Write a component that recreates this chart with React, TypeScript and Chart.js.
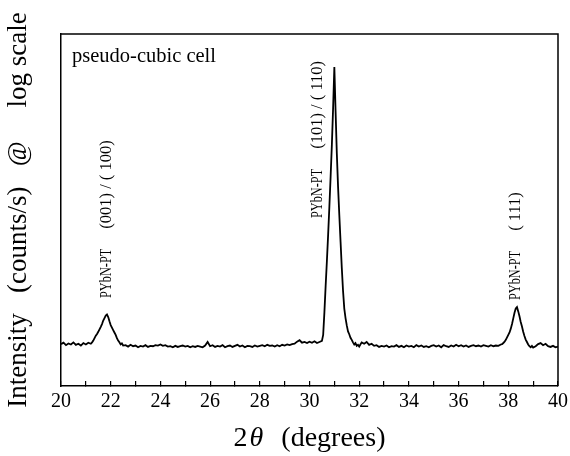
import React, { useEffect, useRef } from 'react';
import { Chart, registerables } from 'chart.js';

Chart.register(...registerables);

const SERIF = '"Liberation Serif", "Times New Roman", Times, serif';

// 2θ positions (degrees)
const twoTheta = [
  20.0, 20.1, 20.2, 20.3, 20.4, 20.5, 20.6, 20.7, 20.8, 20.9, 21.0, 21.1, 21.2,
  21.25, 21.3, 21.35, 21.4, 21.45, 21.5, 21.55, 21.6, 21.65, 21.7, 21.75, 21.8, 21.85,
  21.9, 21.95, 22.0, 22.05, 22.1, 22.15, 22.2, 22.25, 22.3, 22.35, 22.4, 22.45, 22.5,
  22.6, 22.7, 22.8, 22.9,
  23.0, 23.1, 23.2, 23.3, 23.4, 23.5, 23.6, 23.7, 23.8, 23.9,
  24.0, 24.1, 24.2, 24.3, 24.4, 24.5, 24.6, 24.7, 24.8, 24.9,
  25.0, 25.1, 25.2, 25.3, 25.4, 25.5, 25.6, 25.7, 25.8, 25.9,
  26.0, 26.1, 26.2, 26.3, 26.4, 26.5, 26.6, 26.7, 26.8, 26.9,
  27.0, 27.1, 27.2, 27.3, 27.4, 27.5, 27.6, 27.7, 27.8, 27.9,
  28.0, 28.1, 28.2, 28.3, 28.4, 28.5, 28.6, 28.7, 28.8, 28.9,
  29.0, 29.1, 29.2, 29.3, 29.4, 29.5, 29.6, 29.7, 29.8, 29.9,
  30.0, 30.1, 30.2, 30.3, 30.4, 30.5,
  30.55, 30.6, 30.65, 30.7, 30.75, 30.8, 30.85, 30.9, 30.95, 31.0,
  31.05, 31.1, 31.15, 31.2, 31.25, 31.3, 31.35, 31.4, 31.45, 31.5,
  31.55, 31.6, 31.65, 31.7, 31.75, 31.8, 31.85, 31.9, 31.95, 32.0,
  32.1, 32.2, 32.3, 32.4, 32.5, 32.6, 32.7, 32.8, 32.9,
  33.0, 33.1, 33.2, 33.3, 33.4, 33.5, 33.6, 33.7, 33.8, 33.9,
  34.0, 34.1, 34.2, 34.3, 34.4, 34.5, 34.6, 34.7, 34.8, 34.9,
  35.0, 35.1, 35.2, 35.3, 35.4, 35.5, 35.6, 35.7, 35.8, 35.9,
  36.0, 36.1, 36.2, 36.3, 36.4, 36.5, 36.6, 36.7, 36.8, 36.9,
  37.0, 37.1, 37.2, 37.3, 37.4, 37.5, 37.6, 37.7,
  37.75, 37.8, 37.85, 37.9, 37.95, 38.0, 38.05, 38.1, 38.15, 38.2,
  38.25, 38.3, 38.35, 38.4, 38.45, 38.5, 38.55, 38.6, 38.65, 38.7,
  38.75, 38.8, 38.85, 38.9, 38.95,
  39.0, 39.1, 39.2, 39.3, 39.4, 39.5, 39.6, 39.7, 39.8, 39.9, 40.0,
];

// Intensity (arbitrary units, log-scale plot)
const intensity = [
  11.9, 12.3, 11.6, 12.1, 11.8, 12.4, 11.7, 12.0, 11.5, 12.2, 11.8, 12.3, 12.0,
  12.4, 12.9, 13.6, 14.3, 14.8, 15.4, 16.1, 16.8, 17.6, 18.6, 19.3, 20.0, 20.3,
  19.6, 18.4, 17.3, 16.6, 15.9, 15.2, 14.5, 13.6, 12.9, 12.4, 11.8, 12.1, 11.5,
  11.6, 11.2, 11.7, 11.3,
  11.5, 11.0, 11.4, 11.2, 11.6, 11.1, 11.4, 11.3, 11.6, 11.5,
  11.8, 11.4, 11.6, 11.2, 11.3, 11.0, 11.4, 11.1, 11.3, 11.5,
  11.2, 11.4, 11.0, 11.3, 11.1, 11.4, 11.2, 11.0, 11.5, 12.5,
  11.3, 11.6, 11.1, 11.4, 11.2, 11.6, 11.0, 11.3, 11.5, 11.1,
  11.4, 11.7, 11.2, 11.5, 11.0, 11.4, 11.3, 11.1, 11.5, 11.2,
  11.4, 11.6, 11.3, 11.7, 11.4, 11.5, 11.2, 11.6, 11.3, 11.7,
  11.5, 11.8, 11.6, 11.9, 12.0, 12.6, 13.0, 12.3, 12.5, 12.2,
  12.6, 12.3, 12.7, 12.2, 12.5, 12.8,
  14.5, 21.0, 28.5, 35.5, 43.0, 51.0, 59.5, 68.5, 79.0, 90.6,
  78.0, 66.0, 56.5, 48.5, 41.0, 33.5, 27.0, 22.0, 19.3, 17.2,
  15.5, 14.7, 13.7, 13.1, 12.4, 11.8, 12.2, 11.4, 11.7, 11.2,
  12.4, 12.0, 12.5, 11.7, 12.0, 11.4, 11.6, 11.1, 11.4,
  11.2, 11.5, 11.0, 11.3, 11.2, 11.6, 11.1, 11.4, 11.0, 11.5,
  11.2, 11.4, 11.0, 11.6, 11.2, 11.5, 11.1, 11.3, 11.0, 11.4,
  11.6, 11.2, 11.5, 11.0, 11.6, 11.3, 11.1, 11.5, 11.2, 11.7,
  11.3, 11.6, 11.2, 11.5, 11.1, 11.4, 11.6, 11.3, 11.5, 11.2,
  11.6, 11.4, 11.2, 11.6, 11.3, 11.5, 11.4, 11.8,
  11.9, 12.2, 12.6, 13.1, 13.8, 14.5, 15.2, 16.3, 17.6, 19.2,
  20.8, 22.0, 22.4, 21.2, 19.8, 18.2, 16.9, 15.4, 14.2, 13.2,
  12.5, 11.8, 11.3, 11.0, 11.4,
  10.9, 11.3, 11.9, 12.2, 11.6, 12.0, 11.3, 11.1, 11.4, 11.0, 11.2,
];

const xMin = 20;
const xMax = 40;
const xLabelStep = 2;
const yMin = 0;
const yMax = 100;

const peakPhase = ['PYbN-PT', 'PYbN-PT', 'PYbN-PT'];
const peakHkl = ['(001) / ( 100)', '(101) / ( 110)', '( 111)'];
const peakLabelX = [21.83, 30.32, 38.3];
const peakLabelY = [25.0, 47.7, 24.4];

const insetText = 'pseudo-cubic cell';
const xTitleNumber = '2';
const xTitleSymbol = 'θ';
const xTitleUnit = '(degrees)';
const yTitle = 'Intensity   (counts/s)   @     log scale';

const decorPlugin = {
  id: 'decor',
  afterDraw(chart: any) {
    const { ctx, chartArea, scales } = chart;
    const xs = scales.x;
    const ys = scales.y;
    ctx.save();
    // frame: top and right
    ctx.strokeStyle = '#000';
    ctx.lineWidth = 1.5;
    ctx.beginPath();
    ctx.moveTo(chartArea.left, chartArea.top);
    ctx.lineTo(chartArea.right, chartArea.top);
    ctx.lineTo(chartArea.right, chartArea.bottom);
    ctx.stroke();

    ctx.fillStyle = '#000';
    // inset text
    ctx.font = `20.5px ${SERIF}`;
    ctx.textAlign = 'left';
    ctx.textBaseline = 'alphabetic';
    ctx.fillText(insetText, chartArea.left + 11, chartArea.top + 28);

    // peak labels (rotated)
    for (let i = 0; i < peakPhase.length; i++) {
      const px = xs.getPixelForValue(peakLabelX[i]);
      const py = ys.getPixelForValue(peakLabelY[i]);
      ctx.save();
      ctx.translate(px, py);
      ctx.rotate(-Math.PI / 2);
      ctx.textAlign = 'left';
      ctx.textBaseline = 'middle';
      ctx.font = `16px ${SERIF}`;
      const w = ctx.measureText(peakPhase[i]).width * 0.77;
      ctx.save();
      ctx.scale(0.77, 1);
      ctx.fillText(peakPhase[i], 0, 0);
      ctx.restore();
      ctx.font = `16.5px ${SERIF}`;
      ctx.fillText(peakHkl[i], w + 20, 0);
      ctx.restore();
    }

    // x-axis title with italic theta
    const normal = `28px ${SERIF}`;
    const italic = `italic 28px ${SERIF}`;
    ctx.font = normal;
    const w2 = ctx.measureText(xTitleNumber).width;
    const wu = ctx.measureText(xTitleUnit).width;
    ctx.font = italic;
    const wt = ctx.measureText(xTitleSymbol).width;
    const gap = 18;
    const total = w2 + 2 + wt + gap + wu;
    let x = (chartArea.left + chartArea.right) / 2 - total / 2;
    const by = chartArea.bottom + 60;
    ctx.textAlign = 'left';
    ctx.textBaseline = 'alphabetic';
    ctx.font = normal;
    ctx.fillText(xTitleNumber, x, by);
    x += w2 + 2;
    ctx.font = italic;
    ctx.fillText(xTitleSymbol, x, by);
    x += wt + gap;
    ctx.font = normal;
    ctx.fillText(xTitleUnit, x, by);
    ctx.restore();
  },
};

export default function App() {
  const ref = useRef<HTMLCanvasElement>(null);
  useEffect(() => {
    if (!ref.current) return;
    const chart = new Chart(ref.current, {
      type: 'line',
      data: {
        datasets: [
          {
            data: twoTheta.map((t, i) => ({ x: t, y: intensity[i] })),
            borderColor: '#000',
            borderWidth: 1.8,
            pointRadius: 0,
            tension: 0,
            fill: false,
          },
        ],
      },
      options: {
        responsive: false,
        animation: false,
        layout: { padding: { left: 0, top: 34, right: 0, bottom: 0 } },
        plugins: {
          legend: { display: false },
          tooltip: { enabled: false },
        },
        scales: {
          x: {
            type: 'linear',
            min: xMin,
            max: xMax,
            ticks: {
              stepSize: 1,
              autoSkip: false,
              maxRotation: 0,
              color: '#000',
              font: { family: SERIF, size: 20 },
              padding: 9,
              callback: (v: any) => (Number(v) % xLabelStep === 0 ? String(v) : ''),
            },
            grid: {
              display: true,
              drawOnChartArea: false,
              drawTicks: true,
              tickLength: -5,
              color: '#000',
              lineWidth: 1.2,
            },
            border: { display: true, color: '#000', width: 1.5 },
            afterFit: (s: any) => {
              s.height = 70;
              s.paddingLeft = 0;
              s.paddingRight = 12;
            },
          },
          y: {
            type: 'linear',
            min: yMin,
            max: yMax,
            ticks: { display: false },
            grid: { display: false },
            border: { display: true, color: '#000', width: 1.5 },
            title: {
              display: true,
              text: yTitle,
              color: '#000',
              font: { family: SERIF, size: 27 },
              padding: { top: 3, bottom: 0 },
            },
            afterFit: (s: any) => {
              s.width = 61;
            },
          },
        },
      },
      plugins: [decorPlugin],
    } as any);
    return () => chart.destroy();
  }, []);
  return (
    <div style={{ position: 'absolute', left: 0, top: 0, width: 570, height: 456, background: '#fff' }}>
      <canvas ref={ref} width={570} height={456} style={{ display: 'block', width: 570, height: 456 }} />
    </div>
  );
}
